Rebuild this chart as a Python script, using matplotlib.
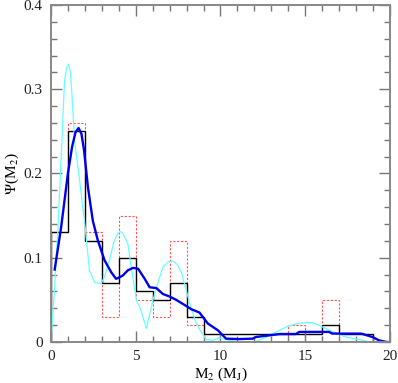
import matplotlib
matplotlib.use('Agg')
import matplotlib.pyplot as plt
import numpy as np

# bin edges (M_J) and histogram heights
edges = np.arange(0, 21, 1)
hist_black = [0.13, 0.25, 0.12, 0.07, 0.10, 0.06, 0.05, 0.07, 0.03, 0.01,
              0.01, 0.01, 0.01, 0.01, 0.01, 0.01, 0.02, 0.01, 0.01, 0.0]
hist_red = [0.13, 0.26, 0.13, 0.03, 0.15, 0.05, 0.03, 0.12, 0.02, 0.0,
            0.0, 0.0, 0.0, 0.0, 0.02, 0.0, 0.05, 0.0, 0.0, 0.0]

# narrow-kernel smoothed distribution (cyan)
cyan_x = [0.0, 0.2, 0.4, 0.65, 0.8, 0.92, 1.04, 1.15, 1.25, 1.39, 1.7, 2.02,
          2.27, 2.57, 2.96, 3.2, 3.45, 3.7, 3.94, 4.1, 4.24, 4.53, 4.8, 5.04,
          5.3, 5.63, 6.02, 6.3, 6.61, 6.9, 7.2, 7.45, 7.69, 8.0, 8.18, 8.57,
          8.76, 9.16, 9.55, 9.94, 10.5, 11.1, 12.0, 12.5, 12.9, 13.5, 14.0,
          14.6, 15.0, 15.4, 15.8, 16.4, 16.9, 17.4, 18.4, 18.8, 20.0]
cyan_y = [0.0, 0.06, 0.13, 0.24, 0.31, 0.325, 0.33, 0.32, 0.29, 0.24, 0.19,
          0.136, 0.085, 0.071, 0.069, 0.08, 0.097, 0.118, 0.129, 0.131, 0.129,
          0.117, 0.08, 0.05, 0.038, 0.016, 0.05, 0.07, 0.089, 0.095, 0.096,
          0.092, 0.083, 0.06, 0.046, 0.022, 0.015, 0.003, 0.002, 0.005, 0.002,
          0.0, 0.0, 0.004, 0.008, 0.014, 0.019, 0.022, 0.023, 0.023, 0.02,
          0.014, 0.01, 0.006, 0.002, 0.0, 0.0]

# wide-kernel smoothed distribution (blue)
blue_x = [0.22, 0.6, 1.0, 1.25, 1.45, 1.63, 1.8, 1.95, 2.18, 2.47, 2.76, 3.16,
          3.55, 3.84, 4.06, 4.24, 4.53, 4.84, 5.14, 5.53, 5.82, 6.22, 6.6, 7.0,
          7.39, 7.88, 8.27, 8.76, 9.25, 9.84, 10.33, 11.1, 11.9, 12.1, 12.9,
          13.5, 14.45, 14.65, 16.4, 16.6, 18.3, 18.96, 19.35, 19.8, 20.0]
blue_y = [0.086, 0.136, 0.2, 0.232, 0.249, 0.254, 0.247, 0.228, 0.184, 0.144,
          0.121, 0.097, 0.083, 0.075, 0.077, 0.079, 0.085, 0.088, 0.087, 0.075,
          0.065, 0.064, 0.057, 0.054, 0.05, 0.044, 0.039, 0.035, 0.022, 0.014,
          0.004, 0.0035, 0.004, 0.006, 0.008, 0.0095, 0.0095, 0.012, 0.012,
          0.01, 0.01, 0.006, 0.002, 0.0, 0.0]

plt.rcParams['font.family'] = ['Liberation Serif', 'DejaVu Serif']
plt.rcParams['mathtext.fontset'] = 'stix'

fig = plt.figure(figsize=(3.98, 3.83), dpi=100)
ax = fig.add_axes([0.128, 0.107, 0.852, 0.880])

ax.stairs(hist_red, edges, color='#ff5555', lw=0.8, linestyle=(0, (2, 1.5)))
ax.stairs(hist_black, edges, color='black', lw=1.0)
ax.plot(cyan_x, cyan_y, color='#66ffff', lw=0.9)
ax.plot(blue_x, blue_y, color='#0000ee', lw=1.7)

ax.set_xlim(0, 20)
ax.set_ylim(0, 0.4)
ax.set_xticks([0, 5, 10, 15, 20])
ax.set_xticks(np.arange(0, 21, 1), minor=True)
ax.set_yticks([0, 0.1, 0.2, 0.3, 0.4])
ax.set_yticklabels(['0', '0.1', '0.2', '0.3', '0.4'])
ax.set_yticks(np.arange(0, 0.41, 0.02), minor=True)

ax.tick_params(which='both', direction='in', top=True, right=True,
               color='#777777', width=1.0, labelsize=11, labelcolor='#222222')
ax.tick_params(which='major', length=8, pad=6)
ax.tick_params(which='minor', length=4.5)
for sp in ax.spines.values():
    sp.set_color('#888888')
    sp.set_linewidth(1.4)

ax.set_xlabel(r'M$_2$ (M$_\mathrm{J}$)', fontsize=11, labelpad=2)
ax.set_ylabel(r'$\Psi$(M$_2$)', fontsize=11, labelpad=2)

fig.savefig('out.png', dpi=100)
